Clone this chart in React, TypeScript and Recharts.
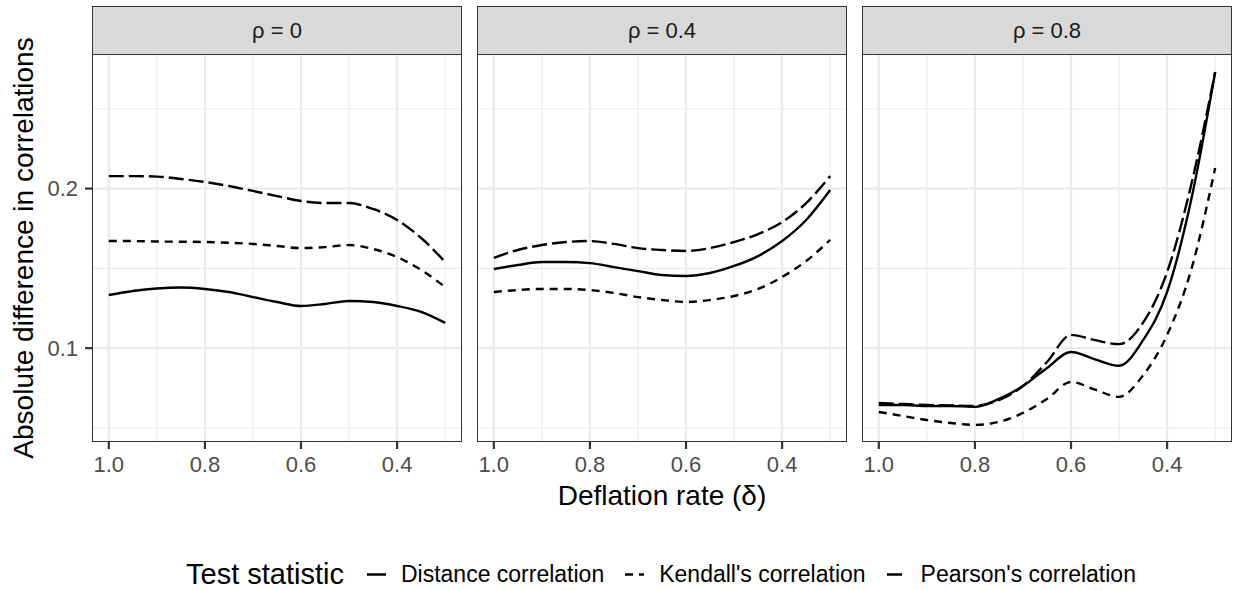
import { CartesianGrid, Line, LineChart, XAxis, YAxis } from "recharts";

const deltas = [1.0, 0.95, 0.9, 0.85, 0.8, 0.75, 0.7, 0.65, 0.6, 0.55, 0.5, 0.45, 0.4, 0.35, 0.3];

// rho = 0
const distanceRho0 = [0.1333, 0.1358, 0.1374, 0.138, 0.1371, 0.1352, 0.132, 0.1289, 0.1264, 0.1277, 0.1295, 0.1289, 0.1264, 0.1227, 0.1158];
const kendallRho0 = [0.1671, 0.1671, 0.1668, 0.1667, 0.1665, 0.166, 0.1653, 0.164, 0.1627, 0.1633, 0.1646, 0.1621, 0.1571, 0.149, 0.1383];
const pearsonRho0 = [0.2078, 0.2078, 0.2075, 0.206, 0.2041, 0.2016, 0.1985, 0.1953, 0.1922, 0.1909, 0.1909, 0.1872, 0.1803, 0.169, 0.154];

// rho = 0.4
const distanceRho04 = [0.1496, 0.1521, 0.154, 0.154, 0.1533, 0.1508, 0.1483, 0.1458, 0.1452, 0.1471, 0.1515, 0.1577, 0.1671, 0.1803, 0.1991];
const kendallRho04 = [0.1352, 0.1364, 0.1371, 0.1371, 0.1364, 0.1346, 0.132, 0.1302, 0.1289, 0.1302, 0.1327, 0.1371, 0.1446, 0.1546, 0.1678];
const pearsonRho04 = [0.1565, 0.1615, 0.1646, 0.1665, 0.1671, 0.1653, 0.1627, 0.1615, 0.1609, 0.1627, 0.1665, 0.1715, 0.179, 0.1909, 0.2078];

// rho = 0.8
const distanceRho08 = [0.0644, 0.0644, 0.0638, 0.0638, 0.0632, 0.0682, 0.0763, 0.0876, 0.0976, 0.093, 0.089, 0.105, 0.1352, 0.1928, 0.273];
const kendallRho08 = [0.06, 0.0575, 0.055, 0.0531, 0.0519, 0.0538, 0.0594, 0.0682, 0.0788, 0.074, 0.0695, 0.083, 0.1083, 0.149, 0.2129];
const pearsonRho08 = [0.0657, 0.065, 0.0644, 0.0641, 0.0638, 0.0675, 0.0763, 0.0913, 0.1083, 0.105, 0.1025, 0.116, 0.1477, 0.2022, 0.273];

const panelLabels = ["\u03C1 = 0", "\u03C1 = 0.4", "\u03C1 = 0.8"];
const seriesNames = ["Distance correlation", "Kendall's correlation", "Pearson's correlation"];
const xTicks = [1.0, 0.8, 0.6, 0.4];
const xMinor = [0.9, 0.7, 0.5, 0.3];
const yTicks = [0.1, 0.2];
const yMinor = [0.05, 0.15, 0.25];

const panelSeries = [
  [distanceRho0, kendallRho0, pearsonRho0],
  [distanceRho04, kendallRho04, pearsonRho04],
  [distanceRho08, kendallRho08, pearsonRho08],
];

const FONT = '"Liberation Sans", Arial, Helvetica, sans-serif';
const DASHES = [undefined, "8 6", "15 5"];
const X_DOMAIN: [number, number] = [0.265, 1.035];
const Y_DOMAIN: [number, number] = [0.0412, 0.2843];

const PANEL_LEFT = [92, 477, 862];
const PANEL_W = 370;
const PANEL_TOP = 54;
const PANEL_H = 388;
const STRIP_TOP = 6;
const AXIS_W = 92;
const XAXIS_H = 40;

const tickStyle = { fill: "#4D4D4D", fontSize: 22, fontFamily: FONT };

function Panel({ index }: { index: number }) {
  const series = panelSeries[index];
  const rows = deltas.map((d, i) => ({
    d,
    distance: series[0][i],
    kendall: series[1][i],
    pearson: series[2][i],
  }));
  const first = index === 0;
  const left = PANEL_LEFT[index];
  const chartLeft = first ? left - AXIS_W : left;
  const chartW = first ? PANEL_W + AXIS_W : PANEL_W;

  return (
    <>
      <div
        style={{
          position: "absolute",
          left,
          top: STRIP_TOP,
          width: PANEL_W,
          height: PANEL_TOP - STRIP_TOP + 1,
          boxSizing: "border-box",
          background: "#D9D9D9",
          border: "1.6px solid #333333",
          display: "flex",
          alignItems: "center",
          justifyContent: "center",
          fontSize: 22,
          color: "#1A1A1A",
        }}
      >
        {panelLabels[index]}
      </div>
      <div style={{ position: "absolute", left: chartLeft, top: PANEL_TOP }}>
        <LineChart
          width={chartW}
          height={PANEL_H + XAXIS_H}
          data={rows}
          margin={{ top: 0, right: 0, bottom: 0, left: 0 }}
        >
          <CartesianGrid
            stroke="#EBEBEB"
            strokeWidth={1.1}
            horizontalValues={yMinor}
            verticalValues={xMinor}
          />
          <CartesianGrid
            stroke="#EBEBEB"
            strokeWidth={2.2}
            horizontalValues={yTicks}
            verticalValues={xTicks}
          />
          <XAxis
            dataKey="d"
            type="number"
            domain={X_DOMAIN}
            reversed
            ticks={xTicks}
            tickFormatter={(v: number) => v.toFixed(1)}
            tick={tickStyle}
            tickLine={{ stroke: "#333333", strokeWidth: 2.2 }}
            tickSize={7}
            tickMargin={7}
            axisLine={false}
            height={XAXIS_H}
            interval={0}
          />
          <YAxis
            type="number"
            domain={Y_DOMAIN}
            ticks={yTicks}
            hide={!first}
            width={AXIS_W}
            tickFormatter={(v: number) => v.toFixed(1)}
            tick={tickStyle}
            tickLine={{ stroke: "#333333", strokeWidth: 2.2 }}
            tickSize={7}
            tickMargin={7}
            axisLine={false}
            interval={0}
          />
          {["distance", "kendall", "pearson"].map((key, i) => (
            <Line
              key={key}
              dataKey={key}
              type="monotone"
              stroke="#000000"
              strokeWidth={2.4}
              strokeDasharray={DASHES[i]}
              dot={false}
              activeDot={false}
              isAnimationActive={false}
            />
          ))}
        </LineChart>
      </div>
      <div
        style={{
          position: "absolute",
          left,
          top: PANEL_TOP,
          width: PANEL_W,
          height: PANEL_H,
          boxSizing: "border-box",
          border: "1.6px solid #333333",
          pointerEvents: "none",
        }}
      />
    </>
  );
}

export default function App() {
  return (
    <div
      style={{
        position: "relative",
        width: 1235,
        height: 590,
        background: "#FFFFFF",
        fontFamily: FONT,
        overflow: "hidden",
      }}
    >
      <style>{`body { margin: 0; }`}</style>
      {panelLabels.map((_, i) => (
        <Panel key={i} index={i} />
      ))}
      <div
        style={{
          position: "absolute",
          left: 24,
          top: PANEL_TOP + PANEL_H / 2,
          transform: "translate(-50%, -50%) rotate(-90deg)",
          whiteSpace: "nowrap",
          fontSize: 28,
          color: "#000000",
        }}
      >
        Absolute difference in correlations
      </div>
      <div
        style={{
          position: "absolute",
          left: PANEL_LEFT[1] + PANEL_W / 2,
          top: 496,
          transform: "translate(-50%, -50%)",
          whiteSpace: "nowrap",
          fontSize: 28,
          color: "#000000",
        }}
      >
        Deflation rate ({"\u03B4"})
      </div>
      <div
        style={{
          position: "absolute",
          left: 186,
          top: 574,
          transform: "translateY(-50%)",
          display: "flex",
          alignItems: "center",
          whiteSpace: "nowrap",
        }}
      >
        <span style={{ fontSize: 29, marginRight: 23 }}>Test statistic</span>
        {seriesNames.map((name, i) => (
          <span key={name} style={{ display: "flex", alignItems: "center", marginRight: i < 2 ? 21 : 0 }}>
            <svg width={19} height={12}>
              <line
                x1={0}
                y1={6}
                x2={19}
                y2={6}
                stroke="#000000"
                strokeWidth={2.4}
                strokeDasharray={DASHES[i]}
              />
            </svg>
            <span style={{ fontSize: 23, marginLeft: 15 }}>{name}</span>
          </span>
        ))}
      </div>
    </div>
  );
}
